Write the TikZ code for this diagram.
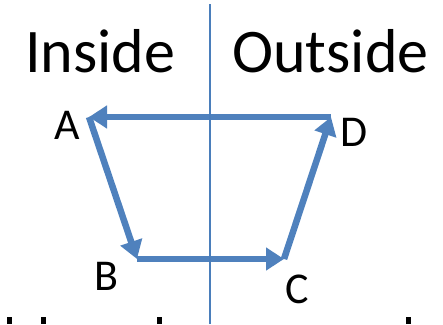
\documentclass[tikz,border=0pt]{standalone}
\usepackage{fontspec}
\setmainfont{Carlito}
\usepackage{tikz}
\usetikzlibrary{arrows.meta}
\definecolor{lineblue}{HTML}{4A7EBB}
\definecolor{flowblue}{HTML}{4F81BD}

\begin{document}
\begin{tikzpicture}[x=1pt,y=1pt,
  flow/.style={line width=6.5pt,flowblue,-{Triangle[length=18pt,width=22pt]}},
  corner/.style={font=\fontsize{44}{44}\selectfont,anchor=base,inner sep=0pt},
  side/.style={font=\fontsize{62}{62}\selectfont,anchor=base west,inner sep=0pt}]
  \useasboundingbox (0,0) rectangle (443,324);
  % headings
  \node[side] (inside) at (25,251) {Inside};
  \node[side] (outside) at (232,251) {Outside};
  % corners
  \coordinate (a) at (89,207);
  \coordinate (b) at (137,65);
  \coordinate (c) at (284,65);
  \coordinate (d) at (331,207);
  % labels
  \node[corner] (labA) at (67,184) {A};
  \node[corner] (labB) at (106,34) {B};
  \node[corner] (labC) at (297,21) {C};
  \node[corner] (labD) at (354,177) {D};
  % cycle
  \draw[flow] (d) -- (a);
  \draw[flow] (a) -- (b);
  \draw[flow] (b) -- (c);
  \draw[flow] (c) -- (d);
  % divider
  \draw[lineblue,line width=2pt] (210,0) -- (210,320);
  % cut-off line below
  \foreach \x in {7,41,157,406}
    \fill (\x,0) rectangle ++(5,7);
\end{tikzpicture}
\end{document}
